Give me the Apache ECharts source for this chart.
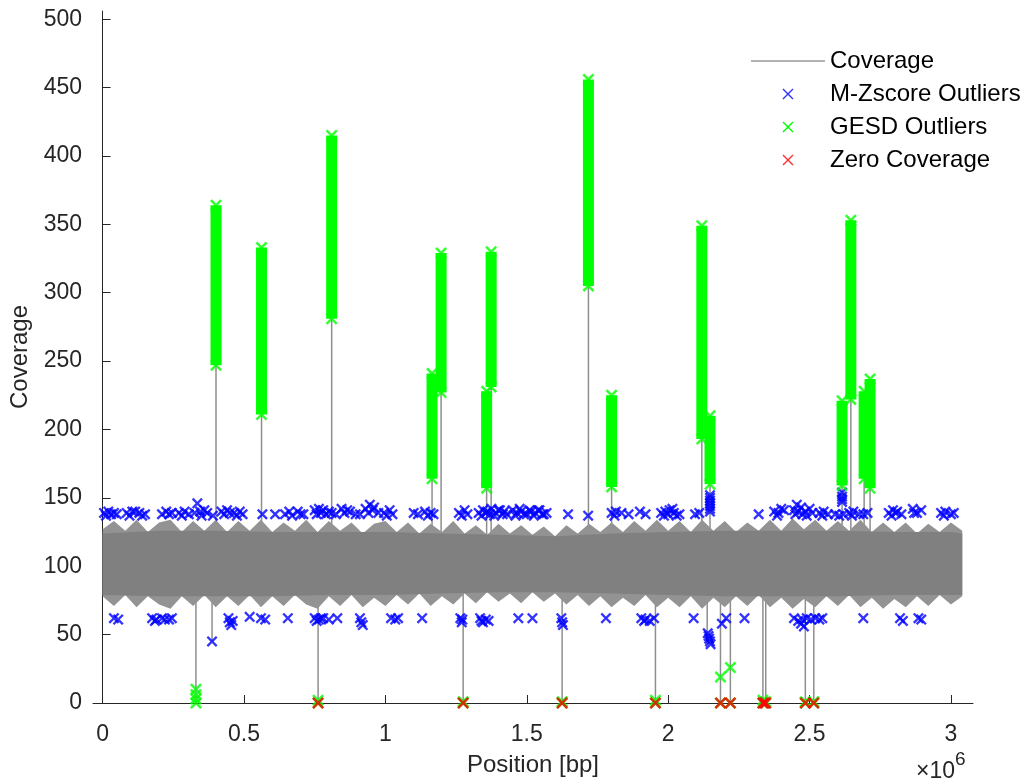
<!DOCTYPE html>
<html><head><meta charset="utf-8">
<script src="https://cdn.jsdelivr.net/npm/echarts@6/dist/echarts.min.js"></script>
<style>html,body{margin:0;padding:0;background:#fff}#c{width:1036px;height:783px}</style>
</head><body><div id="c"></div>
<script>
// Positions are in units of 1e6 bp (axis shows x10^6)
const xTicks = [0, 0.5, 1, 1.5, 2, 2.5, 3];
const yTicks = [0, 50, 100, 150, 200, 250, 300, 350, 400, 450, 500];

// Coverage band envelope (outer spiky edge)
const bandPos = [0,0.04,0.08,0.12,0.16,0.2,0.24,0.28,0.32,0.36,0.4,0.44,0.48,0.52,0.56,0.6,0.64,0.68,0.72,0.76,0.8,0.84,0.88,0.92,0.96,1.0,1.04,1.08,1.12,1.16,1.2,1.24,1.28,1.32,1.36,1.4,1.44,1.48,1.52,1.56,1.6,1.64,1.68,1.72,1.76,1.8,1.84,1.88,1.92,1.96,2.0,2.04,2.08,2.12,2.16,2.2,2.24,2.28,2.32,2.36,2.4,2.44,2.48,2.52,2.56,2.6,2.64,2.68,2.72,2.76,2.8,2.84,2.88,2.92,2.96,3.0,3.04];
const bandHigh = [127,133,126,134,125,132,134,125,133,126,134,125,133,126,134,125,132,126,134,125,133,126,132,124,131,133,125,132,124,131,125,133,124,130,123,131,124,130,123,129,122,130,124,131,125,132,125,133,126,134,126,133,125,134,126,133,125,132,126,134,126,135,127,134,126,133,126,134,125,132,125,132,124,131,125,132,126];
const bandLow = [78,71,79,70,78,72,69,78,71,79,70,78,71,79,70,78,71,79,72,69,78,71,79,70,77,71,79,72,80,71,78,72,80,73,81,74,80,73,81,74,80,72,79,71,78,70,77,71,79,70,77,70,78,69,77,70,78,71,79,70,77,69,76,70,78,71,79,70,77,69,76,70,78,71,79,72,78];
// Coverage dense core
const corePos = [0,0.2,0.4,0.6,0.8,1.0,1.2,1.4,1.6,1.8,2.0,2.2,2.4,2.6,2.8,3.0,3.04];
const coreHigh = [124,126,126,125,125,125,124,123,122,124,125,126,126,126,125,125,124];
const coreLow = [79,78,78,78,79,79,80,81,81,80,79,78,78,78,79,79,79];
// Coverage excursions outside the band (position, extreme value)
const spikePos = [0.401,0.562,0.81,1.165,1.197,1.358,1.374,1.718,1.8,2.119,2.148,2.615,2.646,2.693,2.714,
                  0.33,0.387,0.762,1.275,1.625,1.955,2.138,2.185,2.22,2.335,2.345,2.485,2.515];
const spikeEnd = [364,333,415,241,329,228,330,456,225,349,210,221,353,228,237,
                  0,45,0,0,0,0,43,0,0,0,0,0,0];

// GESD outlier runs (position, lowest, highest)
const gesdPos  = [0.401,0.562,0.81,1.165,1.197,1.358,1.374,1.718,1.8,2.119,2.148,2.615,2.646,2.693,2.714];
const gesdLow  = [247,211,281,164,227,157,231,305,158,193,160,159,222,164,157];
const gesdHigh = [364,333,415,241,329,228,330,456,225,349,210,221,353,228,237];
// GESD outliers near zero
const gesdPtPos = [0.33,0.33,0.33,0.33,0.762,0.762,1.275,1.275,1.625,1.625,1.955,1.955,2.185,2.185,2.22,2.22,2.335,2.335,2.345,2.345,2.485,2.485,2.515,2.515];
const gesdPtVal = [0,3,6,10,0,2,0,1,0,1,0,2,0,19,0,26,0,2,0,1,0,1,0,1];

// M-Zscore outliers (high side)
const mzTopPos = [0.005,0.012,0.02,0.03,0.04,0.05,0.085,0.095,0.105,0.115,0.13,0.14,0.15,0.21,0.225,0.235,0.245,0.27,0.28,0.29,0.305,0.325,0.335,0.345,0.35,0.36,0.37,0.39,0.42,0.43,0.44,0.45,0.465,0.475,0.485,0.495,0.565,0.61,0.645,0.66,0.67,0.69,0.7,0.71,0.75,0.757,0.765,0.772,0.78,0.79,0.8,0.81,0.825,0.845,0.855,0.865,0.875,0.895,0.91,0.93,0.94,0.945,0.955,0.96,0.975,0.995,1.005,1.015,1.025,
  1.1,1.115,1.14,1.15,1.16,1.17,1.26,1.27,1.28,1.29,1.33,1.34,1.345,1.355,1.36,1.37,1.375,1.385,1.39,1.4,1.405,1.415,1.42,1.43,1.45,1.46,1.465,1.475,1.48,1.49,1.5,1.51,1.515,1.525,1.53,1.54,1.545,1.555,1.56,1.57,1.646,1.717,1.8,1.81,1.815,1.835,1.86,1.9,1.92,1.975,1.985,1.99,2.0,2.005,2.015,2.02,2.03,2.04,2.095,2.11,2.148,2.148,2.148,2.148,2.148,2.148,2.148,
  2.32,2.375,2.385,2.39,2.4,2.41,2.445,2.45,2.455,2.46,2.47,2.475,2.485,2.49,2.5,2.51,2.535,2.545,2.55,2.565,2.59,2.605,2.62,2.615,2.615,2.615,2.615,2.64,2.65,2.655,2.675,2.69,2.705,2.78,2.79,2.795,2.805,2.81,2.825,2.865,2.87,2.88,2.895,2.965,2.975,2.98,3.0,3.01];
const mzTopVal = [139,137,140,138,139,138,139,137,140,140,139,137,138,138,140,138,139,139,137,140,138,139,146,140,137,141,139,137,140,138,141,139,139,137,140,138,138,138,138,140,137,140,138,138,141,138,142,139,141,138,140,139,138,142,139,141,140,138,138,142,139,145,141,143,139,139,137,141,138,
  139,138,140,137,139,138,139,137,141,138,139,137,141,139,140,138,142,137,139,141,141,138,140,138,141,137,139,142,140,138,138,141,140,137,139,141,141,138,138,139,138,137,139,137,140,139,138,140,138,139,137,140,138,141,142,139,137,138,138,139,140,142,144,146,148,150,152,
  138,140,137,139,142,141,141,138,145,140,143,138,140,137,142,139,139,137,140,138,138,137,138,147,149,151,154,139,137,140,138,138,139,139,137,141,139,140,138,142,139,139,141,139,137,140,138,139];
// M-Zscore outliers (low side)
const mzBotPos = [0.04,0.055,0.175,0.185,0.19,0.21,0.22,0.235,0.245,0.387,0.445,0.45,0.455,0.46,0.52,0.56,0.575,0.655,0.75,0.757,0.765,0.772,0.78,0.8,0.83,0.91,0.915,0.92,1.02,1.035,
  1.045,1.13,1.265,1.27,1.272,1.335,1.34,1.345,1.355,1.365,1.47,1.52,1.622,1.625,1.628,1.78,1.905,1.915,1.92,1.935,1.95,2.09,2.14,2.143,2.145,2.148,2.15,2.19,2.205,2.27,
  2.445,2.46,2.47,2.475,2.48,2.49,2.505,2.52,2.535,2.545,2.69,2.82,2.83,2.885,2.895];
const mzBotVal = [62,61,62,60,61,62,61,61,62,45,62,59,57,60,63,62,61,62,62,60,61,62,62,61,62,62,59,57,62,61,
  62,62,62,59,61,62,60,59,61,60,62,62,62,59,57,62,62,60,61,60,62,62,51,49,47,45,43,58,62,62,
  62,60,58,61,56,62,61,62,61,62,62,62,60,62,61];
// Zero coverage positions
const zeroPos = [0.762,1.275,1.625,1.955,2.185,2.22,2.335,2.34,2.345,2.485,2.515];

const XLEG = 'path://M0,0.9L0.9,0L5,4.1L9.1,0L10,0.9L5.9,5L10,9.1L9.1,10L5,5.9L0.9,10L0,9.1L4.1,5Z';
const XSYM = 'path://M0,1.5L1.5,0L5,3.5L8.5,0L10,1.5L6.5,5L10,8.5L8.5,10L5,6.5L1.5,10L0,8.5L3.5,5Z';
const FONT = 'Liberation Sans';
const AX = '#262626';

const zip = (a, b) => a.map((v, i) => [v, b[i]]);

const chart = echarts.init(document.getElementById('c'), null, {renderer: 'canvas'});
const gesdEnds = gesdPos.map((p, i) => [p, gesdHigh[i]]).concat(gesdPos.map((p, i) => [p, gesdLow[i]]));

chart.setOption({
  animation: false,
  backgroundColor: '#fff',
  grid: {left: 93, right: 63, top: 11, bottom: 80},
  xAxis: {
    type: 'value', min: -0.034, max: 3.078,
    name: 'Position [bp]', nameLocation: 'middle', nameGap: 50,
    nameTextStyle: {fontFamily: FONT, fontSize: 24, color: AX},
    axisLine: {onZero: false, lineStyle: {color: AX, width: 1}},
    axisTick: {inside: true, length: 8, customValues: xTicks, lineStyle: {color: AX}},
    axisLabel: {customValues: xTicks, formatter: v => String(v), fontFamily: FONT, fontSize: 23, color: AX, margin: 20},
    splitLine: {show: false}
  },
  yAxis: {
    type: 'value', min: 0, max: 506,
    name: 'Coverage', nameLocation: 'middle', nameGap: 60,
    nameTextStyle: {fontFamily: FONT, fontSize: 24, color: AX},
    axisLine: {show: true, lineStyle: {color: AX, width: 1}},
    axisTick: {show: true, inside: true, length: 8, customValues: yTicks, lineStyle: {color: AX}},
    axisLabel: {customValues: yTicks, fontFamily: FONT, fontSize: 23, color: AX, margin: 11},
    splitLine: {show: false}
  },
  legend: {
    orient: 'vertical', left: 746, top: 44, itemWidth: 74, itemHeight: 11, itemGap: 9,
    symbolKeepAspect: true,
    textStyle: {fontFamily: FONT, fontSize: 24, color: '#000'},
    data: [
      {name: 'Coverage', icon: 'path://M0,0H100V2H0Z'},
      {name: 'M-Zscore Outliers', icon: XLEG},
      {name: 'GESD Outliers', icon: XLEG},
      {name: 'Zero Coverage', icon: XLEG}
    ]
  },
  graphic: [
    {type: 'text', x: 916, y: 772, style: {text: '×10', font: '23px "Liberation Sans"', fill: AX, verticalAlign: 'middle'}},
    {type: 'text', x: 955, y: 760, style: {text: '6', font: '19px "Liberation Sans"', fill: AX, verticalAlign: 'middle'}}
  ],
  series: [
    {
      name: 'Coverage', type: 'custom', silent: true, clip: false, itemStyle: {color: '#9a9a9a'},
      data: zip(spikePos, spikeEnd),
      renderItem: (params, api) => {
        const a = api.coord([api.value(0), 100]);
        const b = api.coord([api.value(0), api.value(1)]);
        return {type: 'line', shape: {x1: a[0], y1: a[1], x2: b[0], y2: b[1]}, style: {stroke: '#8e8e8e', lineWidth: 1.5}};
      }
    },
    {
      name: 'Coverage', type: 'custom', silent: true, clip: false, itemStyle: {color: '#9a9a9a'},
      data: [[1.5, 100]],
      renderItem: (params, api) => {
        const pts = [];
        for (let i = 0; i < bandPos.length; i++) pts.push(api.coord([bandPos[i], bandHigh[i]]));
        for (let i = bandPos.length - 1; i >= 0; i--) pts.push(api.coord([bandPos[i], bandLow[i]]));
        return {type: 'polygon', shape: {points: pts}, style: {fill: '#939393'}};
      }
    },
    {
      name: 'Coverage', type: 'custom', silent: true, clip: false, itemStyle: {color: '#9a9a9a'},
      data: [[1.5, 100]],
      renderItem: (params, api) => {
        const pts = [];
        for (let i = 0; i < corePos.length; i++) pts.push(api.coord([corePos[i], coreHigh[i]]));
        for (let i = corePos.length - 1; i >= 0; i--) pts.push(api.coord([corePos[i], coreLow[i]]));
        return {type: 'polygon', shape: {points: pts}, style: {fill: '#808080'}};
      }
    },
    {
      name: 'M-Zscore Outliers', type: 'scatter', clip: false, silent: true,
      symbol: XSYM, symbolSize: 11, itemStyle: {color: '#0000ff'},
      data: zip(mzTopPos, mzTopVal).concat(zip(mzBotPos, mzBotVal))
    },
    {
      name: 'GESD Outliers', type: 'custom', silent: true, clip: false, itemStyle: {color: '#00ff00'},
      data: gesdPos.map((p, i) => [p, gesdLow[i], gesdHigh[i]]),
      encode: {x: 0, y: [1, 2]},
      renderItem: (params, api) => {
        const t = api.coord([api.value(0), api.value(2)]);
        const b = api.coord([api.value(0), api.value(1)]);
        return {type: 'rect', shape: {x: t[0] - 5.5, y: t[1], width: 11, height: b[1] - t[1]}, style: {fill: '#00ff00'}};
      }
    },
    {
      name: 'GESD Outliers', type: 'scatter', clip: false, silent: true,
      symbol: XSYM, symbolSize: 12, itemStyle: {color: '#00ff00'},
      data: gesdEnds.concat(zip(gesdPtPos, gesdPtVal))
    },
    {
      name: 'Zero Coverage', type: 'scatter', clip: false, silent: true,
      symbol: XSYM, symbolSize: 12, itemStyle: {color: '#ff0000'},
      data: zeroPos.map(p => [p, 0])
    }
  ]
});
</script>
</body></html>
